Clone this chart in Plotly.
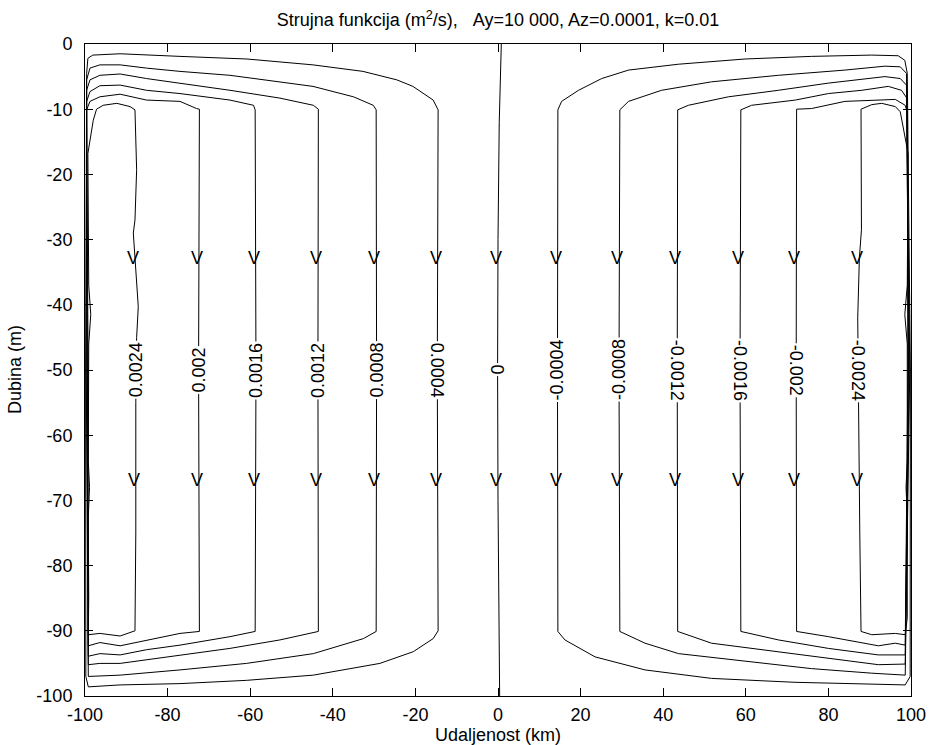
import plotly.graph_objects as go

# ---------------- data ----------------
LEVEL_TEXT = ["0.0024", "0.002", "0.0016", "0.0012", "0.0008", "0.0004", "0",
              "-0.0004", "-0.0008", "-0.0012", "-0.0016", "-0.002", "-0.0024"]

# contour paths as (x km, depth m) pairs
P24 = [(-99.3, -16.8), (-98.0, -11.7), (-97.2, -10.0), (-95.6, -9.4), (-92.3, -9.1), (-89.1, -9.6),
       (-87.9, -10.1), (-87.5, -19.3), (-87.9, -27.0), (-88.3, -29.0), (-87.1, -40.3), (-87.5, -45.0),
       (-87.7, -55.0), (-87.7, -75.0), (-87.9, -90.0), (-91.5, -90.8), (-96.4, -90.4), (-99.2, -90.6),
       (-99.1, -85.0), (-99.2, -72.5), (-98.9, -68.0), (-99.2, -64.0), (-99.1, -46.0), (-98.6, -41.5),
       (-99.1, -37.0), (-99.3, -16.8)]
P20 = [(-99.6, -10.1), (-98.8, -8.8), (-96.4, -8.1), (-91.5, -7.7), (-85.1, -8.6), (-77.0, -8.8),
       (-73.0, -9.9), (-72.3, -10.0), (-72.5, -50.0), (-72.3, -90.1), (-77.0, -90.4), (-85.1, -91.4),
       (-91.5, -92.3), (-96.4, -91.8), (-99.2, -92.3), (-99.25, -50.0), (-99.6, -10.1)]
P16 = [(-99.6, -8.8), (-98.8, -7.3), (-96.4, -6.4), (-91.5, -6.3), (-85.1, -7.1), (-77.0, -7.6),
       (-64.9, -8.6), (-59.2, -9.4), (-58.8, -10.1), (-58.6, -50.0), (-58.8, -90.1), (-64.9, -90.9),
       (-77.0, -92.2), (-85.1, -92.9), (-91.5, -93.7), (-96.4, -93.5), (-99.2, -93.9), (-99.4, -50.0),
       (-99.6, -8.8)]
P12 = [(-99.6, -7.1), (-98.8, -5.5), (-96.4, -4.8), (-91.5, -4.6), (-85.1, -5.3), (-77.0, -6.0),
       (-64.9, -7.1), (-52.8, -8.3), (-44.7, -9.4), (-43.5, -10.0), (-43.6, -50.0), (-43.5, -90.1),
       (-52.8, -91.4), (-64.9, -92.7), (-77.0, -93.7), (-85.1, -94.4), (-91.5, -95.0), (-96.4, -95.0),
       (-99.2, -95.2), (-99.55, -50.0), (-99.6, -7.1)]
P08 = [(-99.6, -5.5), (-98.8, -3.7), (-96.4, -3.2), (-91.5, -3.2), (-85.1, -3.7), (-77.0, -4.2),
       (-64.9, -4.8), (-52.8, -5.8), (-44.8, -6.5), (-35.0, -8.1), (-30.2, -9.4), (-29.5, -10.1),
       (-29.4, -50.0), (-29.5, -90.1), (-32.6, -91.2), (-44.7, -93.5), (-60.9, -95.0), (-77.0, -96.0),
       (-91.5, -96.8), (-99.2, -97.0), (-99.7, -50.0), (-99.6, -5.5)]
P04 = [(-99.6, -4.5), (-99.3, -2.2), (-98.1, -1.7), (-91.5, -1.5), (-77.0, -1.9), (-60.8, -2.3),
       (-44.8, -3.2), (-32.7, -4.2), (-24.5, -5.5), (-20.6, -6.5), (-15.7, -8.6), (-14.5, -10.1),
       (-14.7, -50.0), (-14.5, -90.0), (-15.7, -91.2), (-20.5, -93.2), (-28.6, -95.0), (-44.7, -96.8),
       (-60.9, -97.6), (-77.0, -98.1), (-91.5, -98.3), (-99.2, -98.6), (-99.8, -97.0), (-99.85, -50.0),
       (-99.6, -4.5)]
Z00 = [(0.8, 0.0), (0.3, -12.0), (0.0, -30.0), (-0.1, -50.0), (0.0, -70.0), (0.2, -88.0), (0.4, -100.0)]
N04 = [(99.1, -4.5), (98.5, -2.5), (96.9, -1.8), (90.5, -1.7), (75.9, -1.9), (59.8, -2.3),
       (43.7, -3.1), (31.6, -4.0), (25.1, -5.3), (19.5, -7.1), (15.4, -8.8), (14.5, -10.1),
       (14.4, -50.0), (14.5, -90.1), (16.2, -91.4), (23.5, -94.0), (35.6, -96.0), (51.7, -97.3),
       (71.9, -97.9), (98.6, -98.3), (99.8, -97.0), (99.85, -50.0), (99.1, -4.5)]
N08 = [(98.9, -4.5), (97.4, -3.5), (93.7, -3.4), (84.0, -4.0), (67.9, -4.8), (51.7, -5.8),
       (39.6, -7.1), (31.6, -8.8), (29.5, -10.1), (29.3, -50.0), (29.5, -90.1), (35.6, -91.9),
       (43.7, -93.5), (59.8, -94.7), (75.9, -95.8), (90.5, -96.5), (98.6, -96.8), (99.7, -50.0),
       (98.9, -4.5)]
N12 = [(98.9, -6.3), (97.4, -5.3), (93.7, -5.0), (80.0, -6.0), (67.9, -7.1), (55.8, -8.1),
       (46.1, -9.4), (43.5, -10.1), (43.4, -50.0), (43.5, -90.1), (51.7, -91.9), (67.9, -93.2),
       (80.0, -94.2), (92.1, -95.2), (98.6, -95.1), (99.55, -50.0), (98.9, -6.3)]
N16 = [(99.0, -8.3), (97.7, -7.1), (94.5, -6.5), (88.1, -7.1), (80.0, -7.6), (72.0, -8.6),
       (61.4, -9.4), (58.8, -10.1), (58.6, -50.0), (58.8, -90.1), (67.9, -91.4), (80.0, -92.7),
       (92.1, -93.7), (98.6, -93.7), (99.4, -50.0), (99.0, -8.3)]
N20 = [(99.1, -10.5), (98.6, -9.4), (96.2, -8.5), (89.7, -8.6), (84.0, -8.8), (75.9, -9.9),
       (72.3, -10.0), (72.2, -50.0), (72.3, -90.1), (80.0, -90.9), (88.1, -91.9), (92.1, -92.3),
       (96.2, -91.9), (98.6, -92.2), (99.25, -50.0), (99.1, -10.5)]
N24 = [(99.3, -16.8), (97.4, -10.4), (96.2, -9.6), (92.9, -9.1), (90.5, -9.3), (87.9, -10.0),
       (88.0, -28.5), (87.5, -32.8), (87.1, -42.0), (87.2, -50.0), (87.4, -56.0), (87.6, -75.0),
       (87.9, -90.1), (90.5, -90.6), (96.2, -90.4), (98.6, -90.6), (99.1, -88.0), (99.1, -72.5),
       (98.8, -68.0), (99.1, -64.0), (99.1, -46.0), (98.5, -41.5), (99.1, -37.0), (99.3, -16.8)]

CONTOURS = [P24, P20, P16, P12, P08, P04, Z00, N04, N08, N12, N16, N20, N24]
LABEL_ANGLE = [-90, -90, -90, -90, -90, 90, -90, -90, -90, 90, 90, 90, 90]

LABEL_DEPTH = -50.0
ARROW_DEPTHS = [-32.8, -66.9]

X_TICKS = [-100, -80, -60, -40, -20, 0, 20, 40, 60, 80, 100]
Y_TICKS = [0, -10, -20, -30, -40, -50, -60, -70, -80, -90, -100]

TITLE = ("Strujna funkcija (m<sup>2</sup>/s),\u00a0\u00a0\u00a0"
         "Ay=10\u00a0000, Az=0.0001, k=0.01")
X_TITLE = "Udaljenost (km)"
Y_TITLE = "Dubina (m)"


def x_at_depth(path, depth):
    """x where the path first crosses a given depth (interior vertical branch)."""
    for (x0, y0), (x1, y1) in zip(path[:-1], path[1:]):
        if (y0 - depth) * (y1 - depth) <= 0 and y0 != y1:
            t = (depth - y0) / (y1 - y0)
            return x0 + t * (x1 - x0)
    return path[0][0]


FONT = "Liberation Sans, Arial, Helvetica, sans-serif"
FS = 18

fig = go.Figure()
for path in CONTOURS:
    xs = [p[0] for p in path]
    ys = [p[1] for p in path]
    fig.add_trace(go.Scatter(x=xs, y=ys, mode="lines",
                             line=dict(color="black", width=1),
                             hoverinfo="skip", showlegend=False))

annotations = []
for path, txt, ang in zip(CONTOURS, LEVEL_TEXT, LABEL_ANGLE):
    annotations.append(dict(x=x_at_depth(path, LABEL_DEPTH), y=LABEL_DEPTH,
                            xref="x", yref="y", text=txt, textangle=ang,
                            showarrow=False, bgcolor="white", borderpad=1,
                            font=dict(family=FONT, size=FS, color="black")))
    for d in ARROW_DEPTHS:
        annotations.append(dict(x=x_at_depth(path, d), y=d, xref="x", yref="y",
                                text="V", showarrow=False, xshift=-2,
                                font=dict(family=FONT, size=FS, color="black")))

annotations.append(dict(x=0.5, y=-39 / 652, xref="paper", yref="paper",
                        text=X_TITLE, showarrow=False, yanchor="middle",
                        font=dict(family=FONT, size=FS, color="black")))
annotations.append(dict(x=-70 / 826, y=0.5, xref="paper", yref="paper",
                        text=Y_TITLE, showarrow=False, textangle=-90,
                        xanchor="center",
                        font=dict(family=FONT, size=FS, color="black")))

axis_common = dict(showgrid=False, zeroline=False, showline=True, linecolor="black",
                   linewidth=1, mirror="allticks", ticks="inside", ticklen=8,
                   tickcolor="black", tickwidth=1, automargin=False,
                   tickfont=dict(family=FONT, size=FS, color="black"))

fig.update_layout(
    width=929, height=745, autosize=False,
    margin=dict(l=85, r=18, t=44, b=49, autoexpand=False),
    paper_bgcolor="white", plot_bgcolor="white",
    title=dict(text=TITLE, x=0.5, xref="paper", y=1 - 20 / 745, yref="container",
               xanchor="center", yanchor="middle", automargin=False,
               font=dict(family=FONT, size=FS, color="black")),
    xaxis=dict(range=[-100, 100], tickvals=X_TICKS, ticktext=[str(v) for v in X_TICKS],
               ticklabelstandoff=2, **axis_common),
    yaxis=dict(range=[-100, 0], tickvals=Y_TICKS, ticktext=[str(v) for v in Y_TICKS],
               ticklabelstandoff=8, **axis_common),
    annotations=annotations,
)

fig.write_html(
    "out.html",
    config={"displayModeBar": False, "responsive": False},
    post_script="document.body.style.margin='0';document.body.style.overflow='hidden';",
)
